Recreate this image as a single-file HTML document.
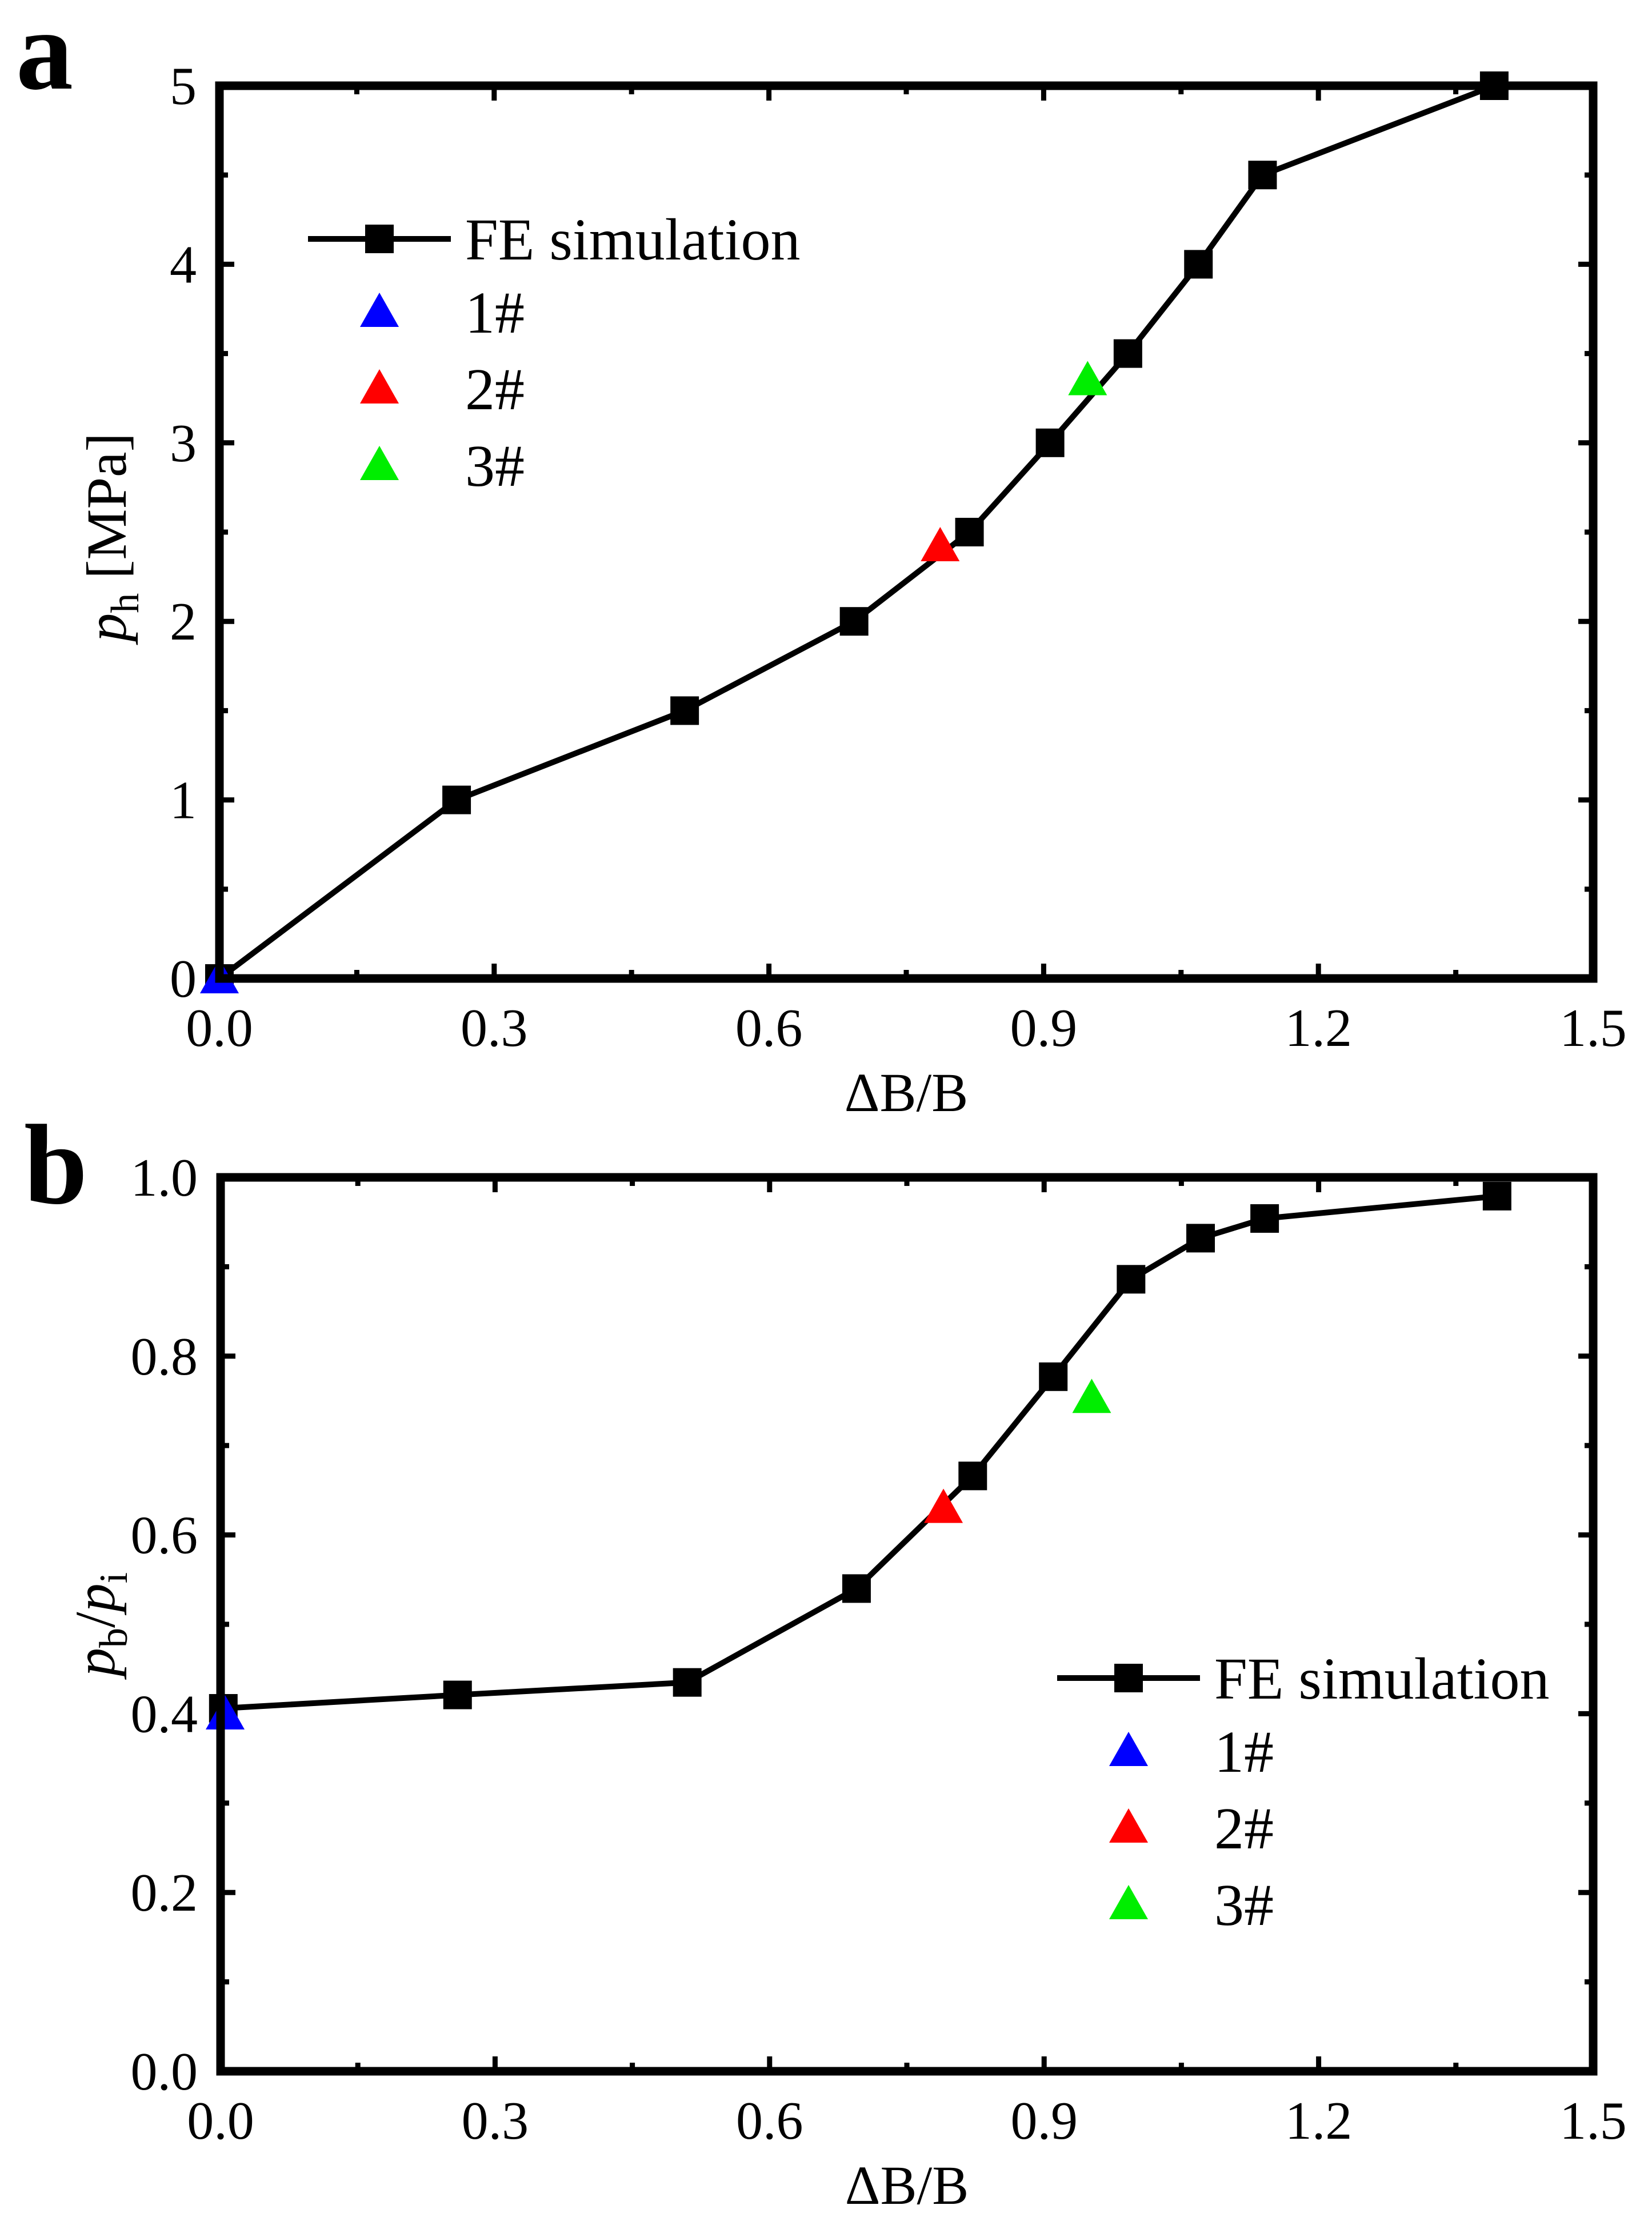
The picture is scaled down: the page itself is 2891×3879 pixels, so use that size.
<!DOCTYPE html>
<html><head><meta charset="utf-8"><style>
html,body{margin:0;padding:0;background:#fff;}
svg{display:block;font-family:"Liberation Serif","Times New Roman",serif;}
</style></head><body>
<svg id="fig" width="2891" height="3879" viewBox="0 0 2891 3879" xmlns="http://www.w3.org/2000/svg">
<rect width="2891" height="3879" fill="#fff"/>
</svg>
<script>
const xCat = [0, 0.259, 0.508, 0.693, 0.819, 0.907, 0.992, 1.069, 1.139, 1.392];
const aValues = [0, 1, 1.5, 2, 2.5, 3, 3.5, 4, 4.5, 5];
const bX = [0.003, 0.259, 0.51, 0.695, 0.822, 0.91, 0.995, 1.071, 1.141, 1.395];
const bValues = [0.406, 0.421, 0.435, 0.540, 0.666, 0.777, 0.886, 0.932, 0.954, 0.979];
const aTriX = [0.0, 0.787, 0.948];
const aTriY = [0.0, 2.42, 3.35];
const bTriX = [0.005, 0.79, 0.952];
const bTriY = [0.399, 0.63, 0.753];
const triColors = ["#0000ff", "#ff0000", "#00ee00"];
const triLabels = ["1#", "2#", "3#"];
const xTicks = ["0.0", "0.3", "0.6", "0.9", "1.2", "1.5"];
const aYTicks = ["0", "1", "2", "3", "4", "5"];
const bYTicks = ["0.0", "0.2", "0.4", "0.6", "0.8", "1.0"];

const NS = "http://www.w3.org/2000/svg";
const svg = document.getElementById('fig');
function mk(tag, attrs, parent, text){
  const e = document.createElementNS(NS, tag);
  for (const k in attrs) e.setAttribute(k, attrs[k]);
  if (text !== undefined) e.textContent = text;
  (parent || svg).appendChild(e);
  return e;
}

function panel(cfg){
  const g = mk('g', {});
  
  
  const L = cfg.L, R = cfg.R, T = cfg.T, B = cfg.B;
  const sx = v => L + (v / 1.5) * (R - L);
  const sy = v => B - (v / cfg.ymax) * (B - T);
  const tg = mk('g', {stroke: '#000', 'stroke-width': 9}, g);
  
  
  for (let i = 0; i <= 10; i++) {
    const v = i * 0.15, x = sx(v), len = i % 2 === 0 ? 26 : 15;
    mk('line', {x1: x, y1: B, x2: x, y2: B - len}, tg);
    mk('line', {x1: x, y1: T, x2: x, y2: T + len}, tg);
  }
  for (let i = 0; i <= 10; i++) {
    const v = i * cfg.ymax / 10, y = sy(v), len = i % 2 === 0 ? 26 : 15;
    mk('line', {x1: L, y1: y, x2: L + len, y2: y}, tg);
    mk('line', {x1: R, y1: y, x2: R - len, y2: y}, tg);
  }
  xTicks.forEach((t, i) => {
    const el = mk('text', {x: sx(i * 0.3), y: B + 118, 'font-size': 94, 'text-anchor': 'middle'}, g, t);
    
    
  });
  cfg.yTicks.forEach((t, i) => {
    const el = mk('text', {x: L - 40, y: sy(i * cfg.ymax / 5) + 32, 'font-size': 94, 'text-anchor': 'end'}, g, t);
    
    
  });
  const pts = cfg.xs.map((x, i) => sx(x) + ',' + sy(cfg.ys[i])).join(' ');
  const pl = mk('polyline', {points: pts, fill: 'none', stroke: '#000', 'stroke-width': 10, 'stroke-linejoin': 'miter'}, g);
  
  
  cfg.xs.forEach((x, i) => {
    const r = mk('rect', {x: sx(x) - 25, y: sy(cfg.ys[i]) - 25, width: 50, height: 50, fill: '#000'}, g);
    
    
  });
  cfg.tx.forEach((x, i) => {
    const cx = sx(x), cy = sy(cfg.ty[i]);
    const p = mk('polygon', {points: `${cx-34},${cy+26} ${cx+34},${cy+26} ${cx},${cy-34}`, fill: triColors[i]}, g);
    
    
  });
  const fr = mk('rect', {x: L, y: T, width: R - L, height: B - T, fill: 'none', stroke: '#000', 'stroke-width': 15}, g);
  
  
  const lg = mk('g', {}, g);
  
  
  const lx = cfg.legX, ly = cfg.legY;
  mk('line', {x1: lx - 125, y1: ly, x2: lx + 125, y2: ly, stroke: '#000', 'stroke-width': 10}, lg);
  mk('rect', {x: lx - 25, y: ly - 25, width: 50, height: 50, fill: '#000'}, lg);
  const ft = mk('text', {x: lx + 150, y: ly + 36, 'font-size': 104}, lg, 'FE simulation');
  
  
  triLabels.forEach((t, i) => {
    const cy = ly + 128 + i * 134;
    mk('polygon', {points: `${lx-34},${cy+26} ${lx+34},${cy+26} ${lx},${cy-34}`, fill: triColors[i]}, lg);
    const tt = mk('text', {x: lx + 150, y: cy + 36, 'font-size': 104}, lg, t);
    
    
  });
  const xt = mk('text', {x: (L + R) / 2, y: B + 232, 'font-size': 96, 'text-anchor': 'middle'}, g, 'ΔB/B');
  
  
  const yt = mk('text', {transform: `translate(${cfg.ytX},${cfg.ytY}) rotate(-90)`, 'font-size': 100, 'text-anchor': 'middle'}, g);
  
  
  yt.innerHTML = cfg.ytitle;
  const pn = mk('text', {x: cfg.pX, y: cfg.pY, 'font-size': 200, 'font-weight': 'bold'}, g, cfg.label);
  
  
}

panel({name: 'panel-a', L: 384, R: 2788, T: 150, B: 1712, ymax: 5, yTicks: aYTicks,
  xs: xCat, ys: aValues, tx: aTriX, ty: aTriY, legX: 664, legY: 418,
  ytX: 220, ytY: 940, label: 'a', pX: 28, pY: 155,
  ytitle: '<tspan font-style="italic">p</tspan><tspan font-size="70" dy="22">h</tspan><tspan dy="-22"> [MPa]</tspan>'});
panel({name: 'panel-b', L: 386, R: 2788, T: 2060, B: 3624, ymax: 1, yTicks: bYTicks,
  xs: bX, ys: bValues, tx: bTriX, ty: bTriY, legX: 1975, legY: 2936,
  ytX: 200, ytY: 2842, label: 'b', pX: 42, pY: 2105,
  ytitle: '<tspan font-style="italic">p</tspan><tspan font-size="70" dy="22">b</tspan><tspan dy="-22">/</tspan><tspan font-style="italic">p</tspan><tspan font-size="70" dy="22">i</tspan>'});
</script>
</body></html>
